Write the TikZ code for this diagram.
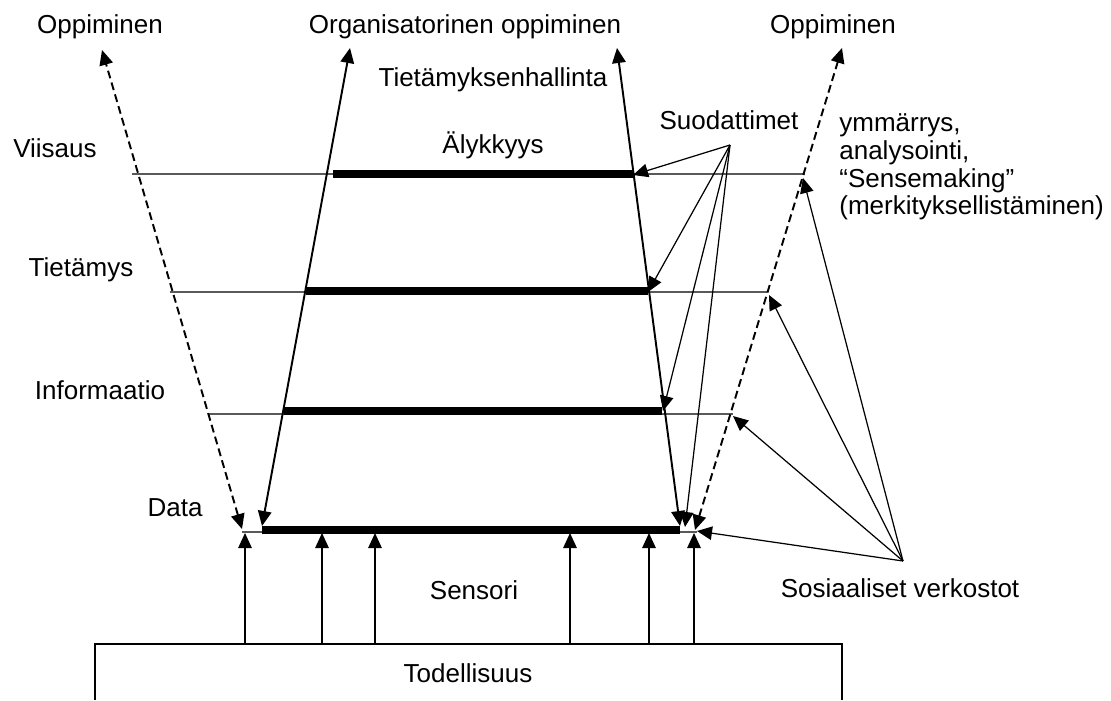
\documentclass[tikz,border=0pt]{standalone}
\usepackage{fontspec}
\setmainfont{Liberation Sans}
\usetikzlibrary{arrows.meta}
\tikzset{>={Triangle[length=0.3cm,width=0.27cm]}}
\tikzset{
  lbl/.style={inner sep=0pt, font=\fontsize{14.8}{15.9}\selectfont},
  pointer/.style={->, line width=0.7pt},
  mainarrow/.style={<->, line width=1.1pt},
  learnarrow/.style={<->, line width=1.1pt, dash pattern=on 4.5pt off 2.5pt},
  levelline/.style={draw=black!65, line width=0.85pt},
  bar/.style={line width=4pt},
}

\begin{document}
\begin{tikzpicture}[x=0.02cm, y=-0.02cm]
\useasboundingbox (0,0) rectangle (1111,700);
\node[lbl] (oppL) at (100,27) {Oppiminen};
\node[lbl] (orgopp) at (465,27) {Organisatorinen oppiminen};
\node[lbl] (oppR) at (833,27) {Oppiminen};
\node[lbl] (tmh) at (493,80) {Tietämyksenhallinta};
\node[lbl] (aly) at (493,145) {Älykkyys};
\node[lbl] (suod) at (729,120) {Suodattimet};
\node[lbl] (viis) at (55,148) {Viisaus};
\node[lbl] (tiet) at (81,270) {Tietämys};
\node[lbl] (info) at (100,390) {Informaatio};
\node[lbl] (data) at (175,508) {Data};
\node[lbl] (sens) at (474,590) {Sensori};
\node[lbl] (tod) at (468,673) {Todellisuus};
\node[lbl] (sosv) at (900,588) {Sosiaaliset verkostot};
\node[lbl, anchor=north west, align=left] (ymm) at (839,113)
  {ymmärrys,\\analysointi,\\“Sensemaking”\\(merkityksellistäminen)};
\draw[line width=1.1pt] (95,700) -- (95,644) -- (842,644) -- (842,700);
\coordinate (vL) at (132,174);
\coordinate (vR) at (805,174);
\coordinate (tL) at (170,292);
\coordinate (tR) at (767,292);
\coordinate (iL) at (208,414);
\coordinate (iR) at (733,414);
\coordinate (dL) at (242,532);
\coordinate (dR) at (697,532);
\draw[levelline] (vL) -- (vR);
\draw[levelline] (tL) -- (tR);
\draw[levelline] (iL) -- (iR);
\draw[levelline] (dL) -- (dR);
\draw[bar] (333,174) -- (633,174);
\draw[bar] (306,291) -- (648,291);
\draw[bar] (284,411) -- (662,411);
\draw[bar] (262,530) -- (680,530);
\coordinate (lsT) at (350,48);
\coordinate (lsB) at (262,526);
\coordinate (rsT) at (617,48);
\coordinate (rsB) at (680,526);
\coordinate (ldT) at (102,50);
\coordinate (ldB) at (242,529);
\coordinate (rdT) at (842,48);
\coordinate (rdB) at (695,530);
\draw[mainarrow] (lsB) -- (lsT);
\draw[mainarrow] (rsT) -- (rsB);
\draw[learnarrow] (ldB) -- (ldT);
\draw[learnarrow] (rdB) -- (rdT);
\foreach \x [count=\i] in {245,322,375,570,649,694} {
  \coordinate (sa\i) at (\x,644);
  \coordinate (sb\i) at (\x,533);
  \draw[pointer] (sa\i) -- (sb\i);
}
\coordinate (sf) at (730,145);
\coordinate (f1) at (633,175);
\coordinate (f2) at (648,292);
\coordinate (f3) at (663,411);
\coordinate (f4) at (685,527);
\foreach \t in {f1,f2,f3,f4}
\draw[pointer] (sf) -- (\t);
\coordinate (sv) at (903,561);
\coordinate (s1) at (803,178);
\coordinate (s2) at (769,295);
\coordinate (s3) at (733,416);
\coordinate (s4) at (697,531);
\foreach \t in {s1,s2,s3,s4}
\draw[pointer] (sv) -- (\t);
\end{tikzpicture}
\end{document}
